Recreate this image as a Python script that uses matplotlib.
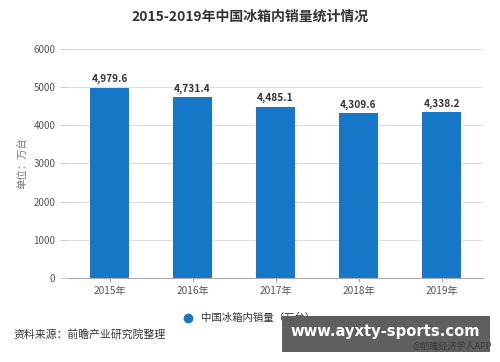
import matplotlib.pyplot as plt
from matplotlib.patches import Rectangle

plt.rcParams["font.family"] = ["Noto Sans CJK SC", "DejaVu Sans"]

years = ["2015年", "2016年", "2017年", "2018年", "2019年"]
sales = [4979.6, 4731.4, 4485.1, 4309.6, 4338.2]
yticks = [0, 1000, 2000, 3000, 4000, 5000, 6000]

bar_color = "#1677c8"
grey = "#555555"

fig = plt.figure(figsize=(5.0, 3.62), dpi=100)
ax = fig.add_axes([0.136, 0.232, 0.83, 0.633])

x = range(len(years))
ax.bar(x, sales, width=0.48, color=bar_color, zorder=2)
for xi, v in zip(x, sales):
    ax.text(xi, v + 90, f"{v:,.1f}", ha="center", va="bottom",
            fontsize=7.3, fontweight="bold", color="#333333")

ax.set_xlim(-0.5, len(years) - 0.5)
ax.set_ylim(0, 6000)
ax.set_yticks(yticks)
ax.set_yticklabels([str(t) for t in yticks])
ax.set_xticks(list(x))
ax.set_xticklabels(years)
ax.tick_params(axis="y", length=6, color="#cccccc", width=0.7,
               labelsize=7, labelcolor=grey, pad=3)
ax.tick_params(axis="x", length=3, color="#aaaaaa", width=0.7,
               labelsize=7.3, labelcolor=grey, pad=3)
ax.grid(axis="y", color="#dddddd", linewidth=0.7, zorder=0)
for s in ["top", "right", "left"]:
    ax.spines[s].set_visible(False)
ax.spines["bottom"].set_color("#aaaaaa")
ax.spines["bottom"].set_linewidth(0.8)
ax.set_ylabel("单位：万台", fontsize=7.5, color="#777777")
ax.yaxis.set_label_coords(-0.098, 0.5)

fig.text(0.5, 0.953, "2015-2019年中国冰箱内销量统计情况", ha="center", va="center",
         fontsize=10, fontweight="bold", color="#333333")

# legend
fig.lines.append(plt.Line2D([0.376], [0.121], marker="o", markersize=6,
                            color=bar_color, transform=fig.transFigure))
fig.text(0.401, 0.121, "中国冰箱内销量（万台）", ha="left", va="center",
         fontsize=7.5, color="#333333")

fig.text(0.026, 0.075, "资料来源：前瞻产业研究院整理", ha="left", va="center",
         fontsize=7.8, color="#333333")

# overlay banner
fig.patches.append(Rectangle((0.564, 0.028), 0.416, 0.0994, transform=fig.transFigure,
                             facecolor="#5f5f5f", edgecolor="none", zorder=5))
fig.text(0.77, 0.084, "www.ayxty-sports.com", ha="center", va="center",
         fontsize=10.6, fontweight="bold", color="white", zorder=6,
         family="DejaVu Sans")
fig.text(0.984, 0.042, "@前瞻经济学人APP", ha="right", va="center",
         fontsize=6.5, color="#3a3a3a", zorder=7)

fig.savefig("out.png", dpi=100, facecolor="white")
